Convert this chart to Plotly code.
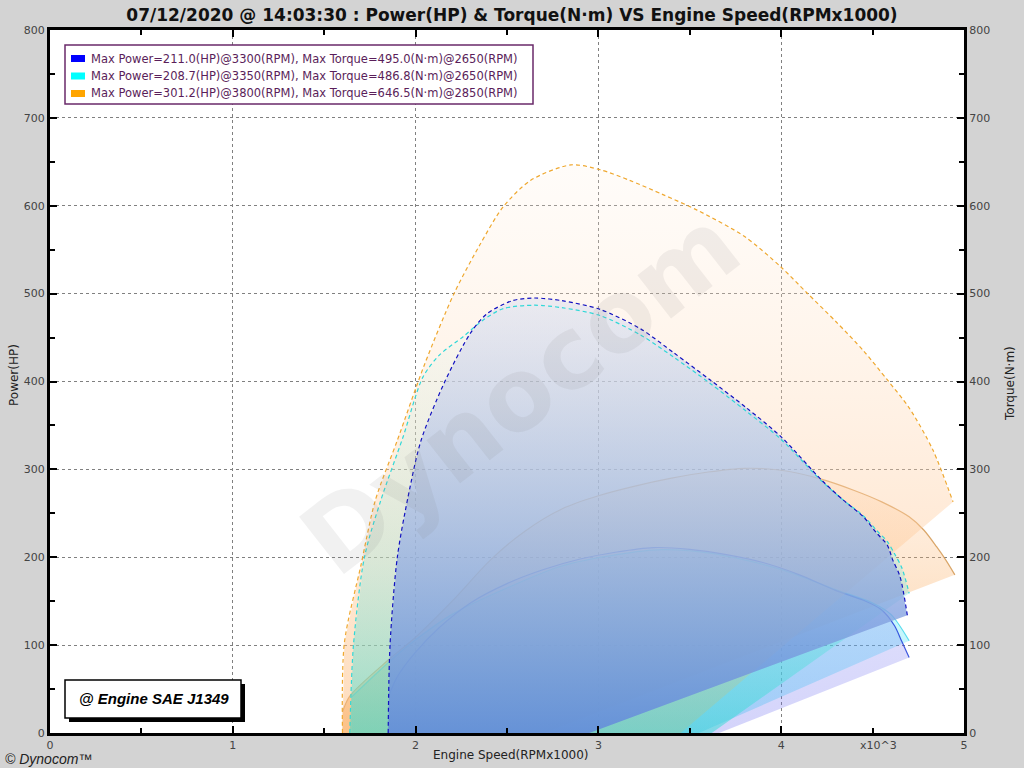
import plotly.graph_objects as go

# ---------------- data (RPM in thousands) ----------------
blue_torque_rpm = [1.85, 1.86, 1.90, 1.96, 2.03, 2.16, 2.30, 2.39, 2.53, 2.65, 2.80, 3.01, 3.23, 3.41, 3.61, 3.81, 4.00, 4.22, 4.34, 4.45, 4.52, 4.58, 4.61, 4.65, 4.69]
blue_torque_nm = [0, 100, 200, 270, 333, 400, 455, 477, 492, 495, 492, 482, 460, 433, 402, 370, 337, 288, 265, 246, 228, 214, 197, 178, 134]

cyan_torque_rpm = [1.64, 1.66, 1.72, 1.81, 1.93, 2.04, 2.13, 2.26, 2.37, 2.48, 2.65, 2.80, 3.01, 3.23, 3.41, 3.61, 3.81, 4.00, 4.22, 4.34, 4.45, 4.52, 4.58, 4.62, 4.66, 4.70]
cyan_torque_nm = [0, 100, 200, 265, 336, 405, 430, 451, 470, 483, 486.8, 484, 475, 453, 428, 398, 366, 334, 287, 265, 247, 231, 218, 204, 188, 159]

orange_torque_rpm = [1.60, 1.61, 1.70, 1.78, 1.90, 2.05, 2.21, 2.35, 2.48, 2.63, 2.85, 3.01, 3.17, 3.35, 3.54, 3.80, 4.00, 4.14, 4.30, 4.45, 4.58, 4.70, 4.83, 4.94]
orange_torque_nm = [0, 102, 190, 265, 333, 420, 500, 555, 599, 629, 646.5, 641, 629, 613, 595, 565, 530, 501, 468, 435, 402, 370, 322, 263]

blue_power_rpm = [1.85, 1.90, 2.00, 2.13, 2.30, 2.50, 2.70, 2.90, 3.10, 3.30, 3.50, 3.70, 3.90, 4.10, 4.30, 4.45, 4.55, 4.62, 4.66, 4.70]
blue_power_hp = [41, 64, 92, 120, 148, 170, 186, 198, 206, 211, 209, 203, 194, 180, 162, 151, 140, 122, 104, 86]

cyan_power_rpm = [1.65, 1.85, 2.00, 2.20, 2.50, 2.80, 3.10, 3.35, 3.60, 3.80, 4.00, 4.30, 4.50, 4.60, 4.70]
cyan_power_hp = [41, 80, 106, 135, 165, 190, 203, 208.7, 205, 197, 186, 163, 148, 135, 105]

orange_power_rpm = [1.60, 1.64, 1.85, 2.00, 2.20, 2.41, 2.60, 2.80, 3.00, 3.20, 3.40, 3.60, 3.80, 4.00, 4.20, 4.40, 4.55, 4.70, 4.78, 4.85, 4.90, 4.95]
orange_power_hp = [24, 42, 83, 109, 150, 197, 230, 255, 270, 281, 290, 297, 301.2, 299, 290, 276, 263, 246, 231, 212, 197, 180]

# where each filled area closes back on the speed axis (RPM x1000)
fill_close_rpm = {
    "orange_torque": 3.45, "cyan_torque": 3.62, "orange_power": 2.70,
    "cyan_power": 3.55, "blue_power": 3.66, "blue_torque": 2.95,
}

legend_labels = [
    "Max Power=211.0(HP)@3300(RPM), Max Torque=495.0(N·m)@2650(RPM)",
    "Max Power=208.7(HP)@3350(RPM), Max Torque=486.8(N·m)@2650(RPM)",
    "Max Power=301.2(HP)@3800(RPM), Max Torque=646.5(N·m)@2850(RPM)",
]
legend_colors = ["#0000FF", "#00FFFF", "#FFA500"]

x_ticks = [0, 1, 2, 3, 4, 5]
y_ticks = [0, 100, 200, 300, 400, 500, 600, 700, 800]

# ---------------- figure ----------------
W, H = 1024, 768
ML, MR, MT, MB = 50, 60, 30, 35
PW, PH = W - ML - MR, H - MT - MB


def px(xp):
    return (xp - ML) / PW


def py(yp):
    return (H - MB - yp) / PH


fig = go.Figure()


def add_fill(xs, ys, close_x, cscale, yaxis):
    fig.add_trace(go.Scatter(
        x=list(xs) + [close_x, xs[0]], y=list(ys) + [0, 0],
        mode="none", fill="toself",
        fillgradient=dict(type="vertical", colorscale=cscale),
        hoverinfo="skip", showlegend=False, yaxis=yaxis))


add_fill(orange_torque_rpm, orange_torque_nm, fill_close_rpm["orange_torque"],
         [[0, "rgba(253,185,120,0.5)"], [0.4, "rgba(255,205,160,0.4)"], [1, "rgba(255,240,225,0.2)"]], "y2")
add_fill(orange_power_rpm, orange_power_hp, fill_close_rpm["orange_power"],
         [[0, "rgba(245,150,50,0.5)"], [1, "rgba(255,195,140,0.2)"]], "y")
add_fill(cyan_torque_rpm, cyan_torque_nm, fill_close_rpm["cyan_torque"],
         [[0, "rgba(40,220,210,0.5)"], [0.4, "rgba(120,230,225,0.28)"], [1, "rgba(200,245,245,0.08)"]], "y2")
add_fill(cyan_power_rpm, cyan_power_hp, fill_close_rpm["cyan_power"],
         [[0, "rgba(70,225,245,0.4)"], [1, "rgba(80,230,250,0.25)"]], "y")
add_fill(blue_power_rpm, blue_power_hp, fill_close_rpm["blue_power"],
         [[0, "rgba(110,110,240,0.3)"], [1, "rgba(110,110,240,0.18)"]], "y")
add_fill(blue_torque_rpm, blue_torque_nm, fill_close_rpm["blue_torque"],
         [[0, "rgba(100,140,218,0.9)"], [1, "rgba(218,221,240,0.5)"]], "y2")

# power lines (solid)
for xs, ys, col in [(orange_power_rpm, orange_power_hp, "rgba(210,150,80,0.85)"),
                    (cyan_power_rpm, cyan_power_hp, "rgba(60,215,235,0.85)"),
                    (blue_power_rpm, blue_power_hp, "rgba(40,70,220,0.9)")]:
    fig.add_trace(go.Scatter(x=xs, y=ys, mode="lines", line=dict(color=col, width=1.2, shape="spline", smoothing=0.8),
                             hoverinfo="skip", showlegend=False))

# torque lines (dashed)
for xs, ys, col in [(orange_torque_rpm, orange_torque_nm, "#EFA830"),
                    (cyan_torque_rpm, cyan_torque_nm, "#30D8D8"),
                    (blue_torque_rpm, blue_torque_nm, "#1010C0")]:
    fig.add_trace(go.Scatter(x=xs, y=ys, mode="lines", yaxis="y2",
                             line=dict(color=col, width=1.2, dash="4px,3px", shape="spline", smoothing=0.8),
                             hoverinfo="skip", showlegend=False))

axis_common = dict(showgrid=True, gridcolor="#808080", griddash="dot", gridwidth=1,
                   zeroline=False, showline=True, linecolor="black", linewidth=3,
                   ticks="inside", ticklen=7, tickwidth=2, tickcolor="black", layer="above traces",
                   tickfont=dict(family="DejaVu Sans", size=11, color="#444"))

fig.update_layout(
    width=W, height=H,
    paper_bgcolor="#D3D3D3", plot_bgcolor="white",
    margin=dict(l=ML, r=MR, t=MT, b=MB),
    title=dict(text="07/12/2020 @ 14:03:30 : Power(HP) & Torque(N·m) VS Engine Speed(RPMx1000)",
               x=0.5, xanchor="center", y=1 - 15 / H, yanchor="middle",
               font=dict(family="DejaVu Sans", size=17, color="#111", weight="bold")),
    xaxis=dict(range=[0, 5], tickvals=x_ticks, mirror="ticks",
               minor=dict(dtick=0.5, ticks="inside", ticklen=5, tickwidth=2, tickcolor="black", showgrid=False),
               **axis_common),
    yaxis=dict(range=[0, 800], tickvals=y_ticks,
               minor=dict(dtick=50, ticks="inside", ticklen=5, tickwidth=2, tickcolor="black", showgrid=False),
               **axis_common),
    yaxis2=dict(range=[0, 800], tickvals=y_ticks, overlaying="y", side="right",
                minor=dict(dtick=50, ticks="inside", ticklen=5, tickwidth=2, tickcolor="black", showgrid=False),
                **{**axis_common, "showgrid": False}),
    showlegend=False,
)

# legend box (drawn manually to match the compact swatches)
LEG_X0, LEG_X1, LEG_Y0, LEG_Y1 = 65, 533, 45, 104
fig.add_shape(type="rect", xref="paper", yref="paper",
              x0=px(LEG_X0), x1=px(LEG_X1), y0=py(LEG_Y1), y1=py(LEG_Y0),
              fillcolor="white", line=dict(color="#6A2A6A", width=1.5), layer="above")
for i, (lab, col) in enumerate(zip(legend_labels, legend_colors)):
    yc = 58.5 + i * 17.5
    fig.add_shape(type="rect", xref="paper", yref="paper",
                  x0=px(71), x1=px(85), y0=py(yc + 3.5), y1=py(yc - 3.5),
                  fillcolor=col, line=dict(width=0), layer="above")
    fig.add_annotation(text=lab, xref="paper", yref="paper", x=px(89), y=py(yc),
                       xanchor="left", yanchor="middle", showarrow=False,
                       font=dict(family="DejaVu Sans", size=11.5, color="#5A1E5A"))

# SAE box with shadow
fig.add_shape(type="rect", xref="paper", yref="paper",
              x0=px(69), x1=px(245), y0=py(722), y1=py(684),
              fillcolor="black", line=dict(width=0), layer="above")
fig.add_shape(type="rect", xref="paper", yref="paper",
              x0=px(65), x1=px(241), y0=py(718), y1=py(680),
              fillcolor="white", line=dict(color="black", width=1.5), layer="above")

annots = [
    dict(text="<b><i>@ Engine SAE J1349</i></b>", x=px(154), y=py(698),
         font=dict(family="Liberation Sans", size=15, color="black")),
    dict(text="<b>Dynocom</b>", x=px(520), y=py(392), textangle=-38,
         font=dict(family="DejaVu Sans", size=100, color="rgba(128,128,128,0.11)")),
    dict(text="Power(HP)", x=px(14), y=py(375), textangle=-90,
         font=dict(family="DejaVu Sans", size=12, color="#222")),
    dict(text="Torque(N·m)", x=px(1010), y=py(383), textangle=-90,
         font=dict(family="DejaVu Sans", size=12, color="#222")),
    dict(text="Engine Speed(RPMx1000)", x=px(511), y=py(755),
         font=dict(family="DejaVu Sans", size=12, color="#222")),
    dict(text="x10^3", x=px(878), y=py(745),
         font=dict(family="DejaVu Sans", size=11, color="#444")),
    dict(text="<i>© Dynocom™</i>", x=px(3), y=py(759.5), xanchor="left",
         font=dict(family="Liberation Sans", size=14, color="#222")),
]
for a in annots:
    base = dict(xref="paper", yref="paper", showarrow=False, xanchor="center", yanchor="middle")
    base.update(a)
    fig.add_annotation(**base)

fig.write_html("out.html", config={"displayModeBar": False},
               post_script="document.body.style.margin='0';document.body.style.background='#D3D3D3';")
